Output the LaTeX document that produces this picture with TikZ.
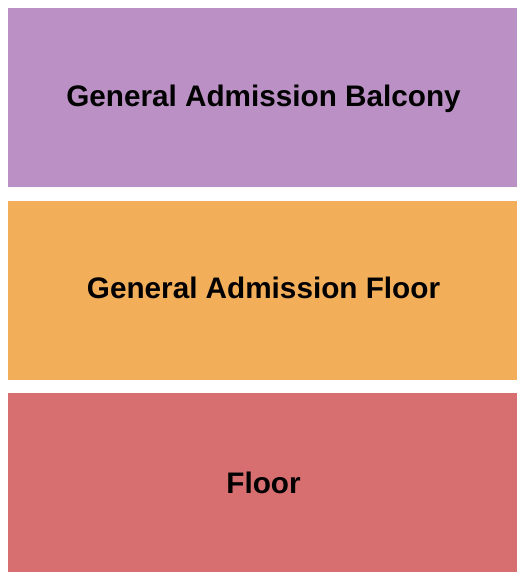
\documentclass[tikz,border=0pt]{standalone}
\usepackage{fontspec}
\setmainfont{Liberation Sans}
\definecolor{balc}{HTML}{BB91C5}
\definecolor{gaf}{HTML}{F3AE5A}
\definecolor{flr}{HTML}{D76E6F}
\begin{document}
\begin{tikzpicture}[x=1pt,y=-1pt,
  sect/.style={draw=none,minimum width=509pt,minimum height=179pt,inner sep=0pt,anchor=north west},
  lbl/.style={inner sep=0pt,font=\fontsize{29.7}{34}\selectfont\bfseries,text=black,xshift=0.8pt}]
\useasboundingbox (0,0) rectangle (525,580);
\fill[white] (0,0) rectangle (525,580);
\node[sect,fill=balc] (balcony) at (8,8) {};
\node[sect,fill=gaf] (gafloor) at (8,201) {};
\node[sect,fill=flr] (floor) at (8,393) {};
\node[lbl,yshift=-1pt] (balconytxt) at (balcony.center) {General Admission Balcony};
\node[lbl,yshift=3pt] (gafloortxt) at (gafloor.center) {General Admission Floor};
\node[lbl] (floortxt) at (floor.center) {Floor};
\end{tikzpicture}
\end{document}
